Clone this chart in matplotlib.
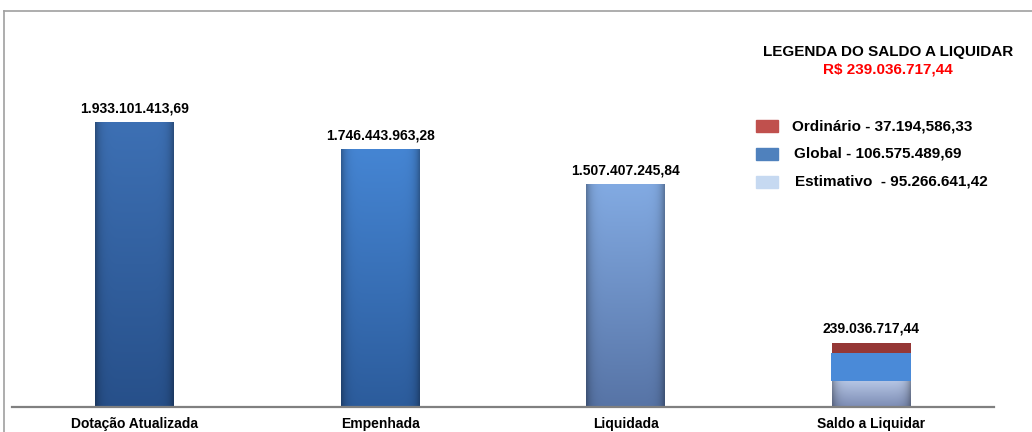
import numpy as np
import matplotlib
matplotlib.use('Agg')
import matplotlib.pyplot as plt
from matplotlib.colors import to_rgb
from matplotlib.patches import Rectangle
from matplotlib.lines import Line2D

plt.rcParams['font.family'] = ['Liberation Sans', 'DejaVu Sans']
plt.rcParams['font.weight'] = 'bold'

# data
categories = ['Dotação Atualizada', 'Empenhada', 'Liquidada', 'Saldo a Liquidar']
values = [1933101413.69, 1746443963.28, 1507407245.84, 239036717.44]
saldo_parts = [95266641.42, 106575489.69, 37194586.33]   # Estimativo, Global, Ordinário (bottom -> top)
legend_labels = ['Ordinário - 37.194,586,33', 'Global - 106.575.489,69', 'Estimativo  - 95.266.641,42']
legend_title = 'LEGENDA DO SALDO A LIQUIDAR'
legend_total = 'R$ 239.036.717,44'

# bar colours (top, bottom of gradient)
bar_grad = [('#3D70B4', '#27508A'), ('#4585D3', '#2C5C9C'), ('#82AAE2', '#5774A6')]
saldo_colors = [('#B5C5E4', '#7C8CB4'), ('#4A8AD8', '#4A8AD8'), ('#953735', '#953735')]
legend_colors = ['#C0504D', '#4F81BD', '#C6D9F1']
stack_scale = 1.83   # saldo stack is drawn enlarged in the original


def br(v):
    s = f'{v:,.2f}'
    return s.replace(',', 'X').replace('.', ',').replace('X', '.')


def shade(ax, x0, y0, w, h, top, bottom, edge=0.3):
    t = np.linspace(0, 1, 80)[:, None, None]
    img = np.array(to_rgb(top)) * (1 - t) + np.array(to_rgb(bottom)) * t
    u = np.linspace(-1, 1, 60)
    f = 1 - edge * np.abs(u) ** 8
    img = np.clip(img * f[None, :, None], 0, 1)
    ax.imshow(img, extent=[x0, x0 + w, y0, y0 + h], aspect='auto',
              origin='upper', interpolation='bilinear', zorder=2)


W, H = 1032, 432
fig = plt.figure(figsize=(W / 100, H / 100), dpi=100)
ax = fig.add_axes([12 / W, 25 / H, 982 / W, 396 / H])

x = np.arange(len(categories))
bw = 0.32
bars = ax.bar(x[:3], values[:3], width=bw, color='none')
for b, (c1, c2) in zip(bars, bar_grad):
    shade(ax, b.get_x(), 0, b.get_width(), b.get_height(), c1, c2)

bottom = 0
for i, (part, (c1, c2)) in enumerate(zip(saldo_parts, saldo_colors)):
    h = part * stack_scale
    w = bw if i != 1 else bw * 1.02
    if i == 0:
        shade(ax, x[3] - w / 2, bottom, w, h, c1, c2)
    else:
        ax.bar(x[3], h, width=w, bottom=bottom, color=c1, zorder=3)
    bottom += h

tops = list(values[:3]) + [bottom]
for xi, top, v in zip(x, tops, values):
    ax.annotate(br(v), (xi, top), xytext=(0, 5), textcoords='offset points',
                ha='center', va='bottom', fontsize=10, fontweight='bold')

ax.set_xlim(-0.5, 3.5)
ax.set_ylim(0, 2686e6)
ax.set_xticks(x)
ax.set_xticklabels(categories, fontsize=10, fontweight='bold')
ax.tick_params(axis='x', length=0, pad=7)
ax.set_yticks([])
for s in ['top', 'left', 'right']:
    ax.spines[s].set_visible(False)
ax.spines['bottom'].set_color('#808080')
ax.spines['bottom'].set_linewidth(1.6)
ax.spines['bottom'].set_zorder(5)

# outer frame
fig.add_artist(Line2D([3.5 / W, 3.5 / W], [0, 1 - 11 / H], color='#A0A0A0', lw=1.2))
fig.add_artist(Line2D([3.5 / W, 1], [1 - 11 / H, 1 - 11 / H], color='#A0A0A0', lw=1.2))

# legend of saldo
fig.text(888 / W, 1 - 52 / H, legend_title, ha='center', va='center', fontsize=11, fontweight='bold')
fig.text(888 / W, 1 - 69 / H, legend_total, ha='center', va='center', fontsize=11,
         fontweight='bold', color='#FF0000')
for i, (lab, col) in enumerate(zip(legend_labels, legend_colors)):
    yc = 126 + i * 28
    fig.add_artist(Rectangle((756 / W, 1 - (yc + 6) / H), 22 / W, 12 / H,
                             transform=fig.transFigure, color=col))
    fig.text((792 + i * 1.5) / W, 1 - yc / H, lab, ha='left', va='center',
             fontsize=11, fontweight='bold')

fig.savefig('out.png', dpi=100)
